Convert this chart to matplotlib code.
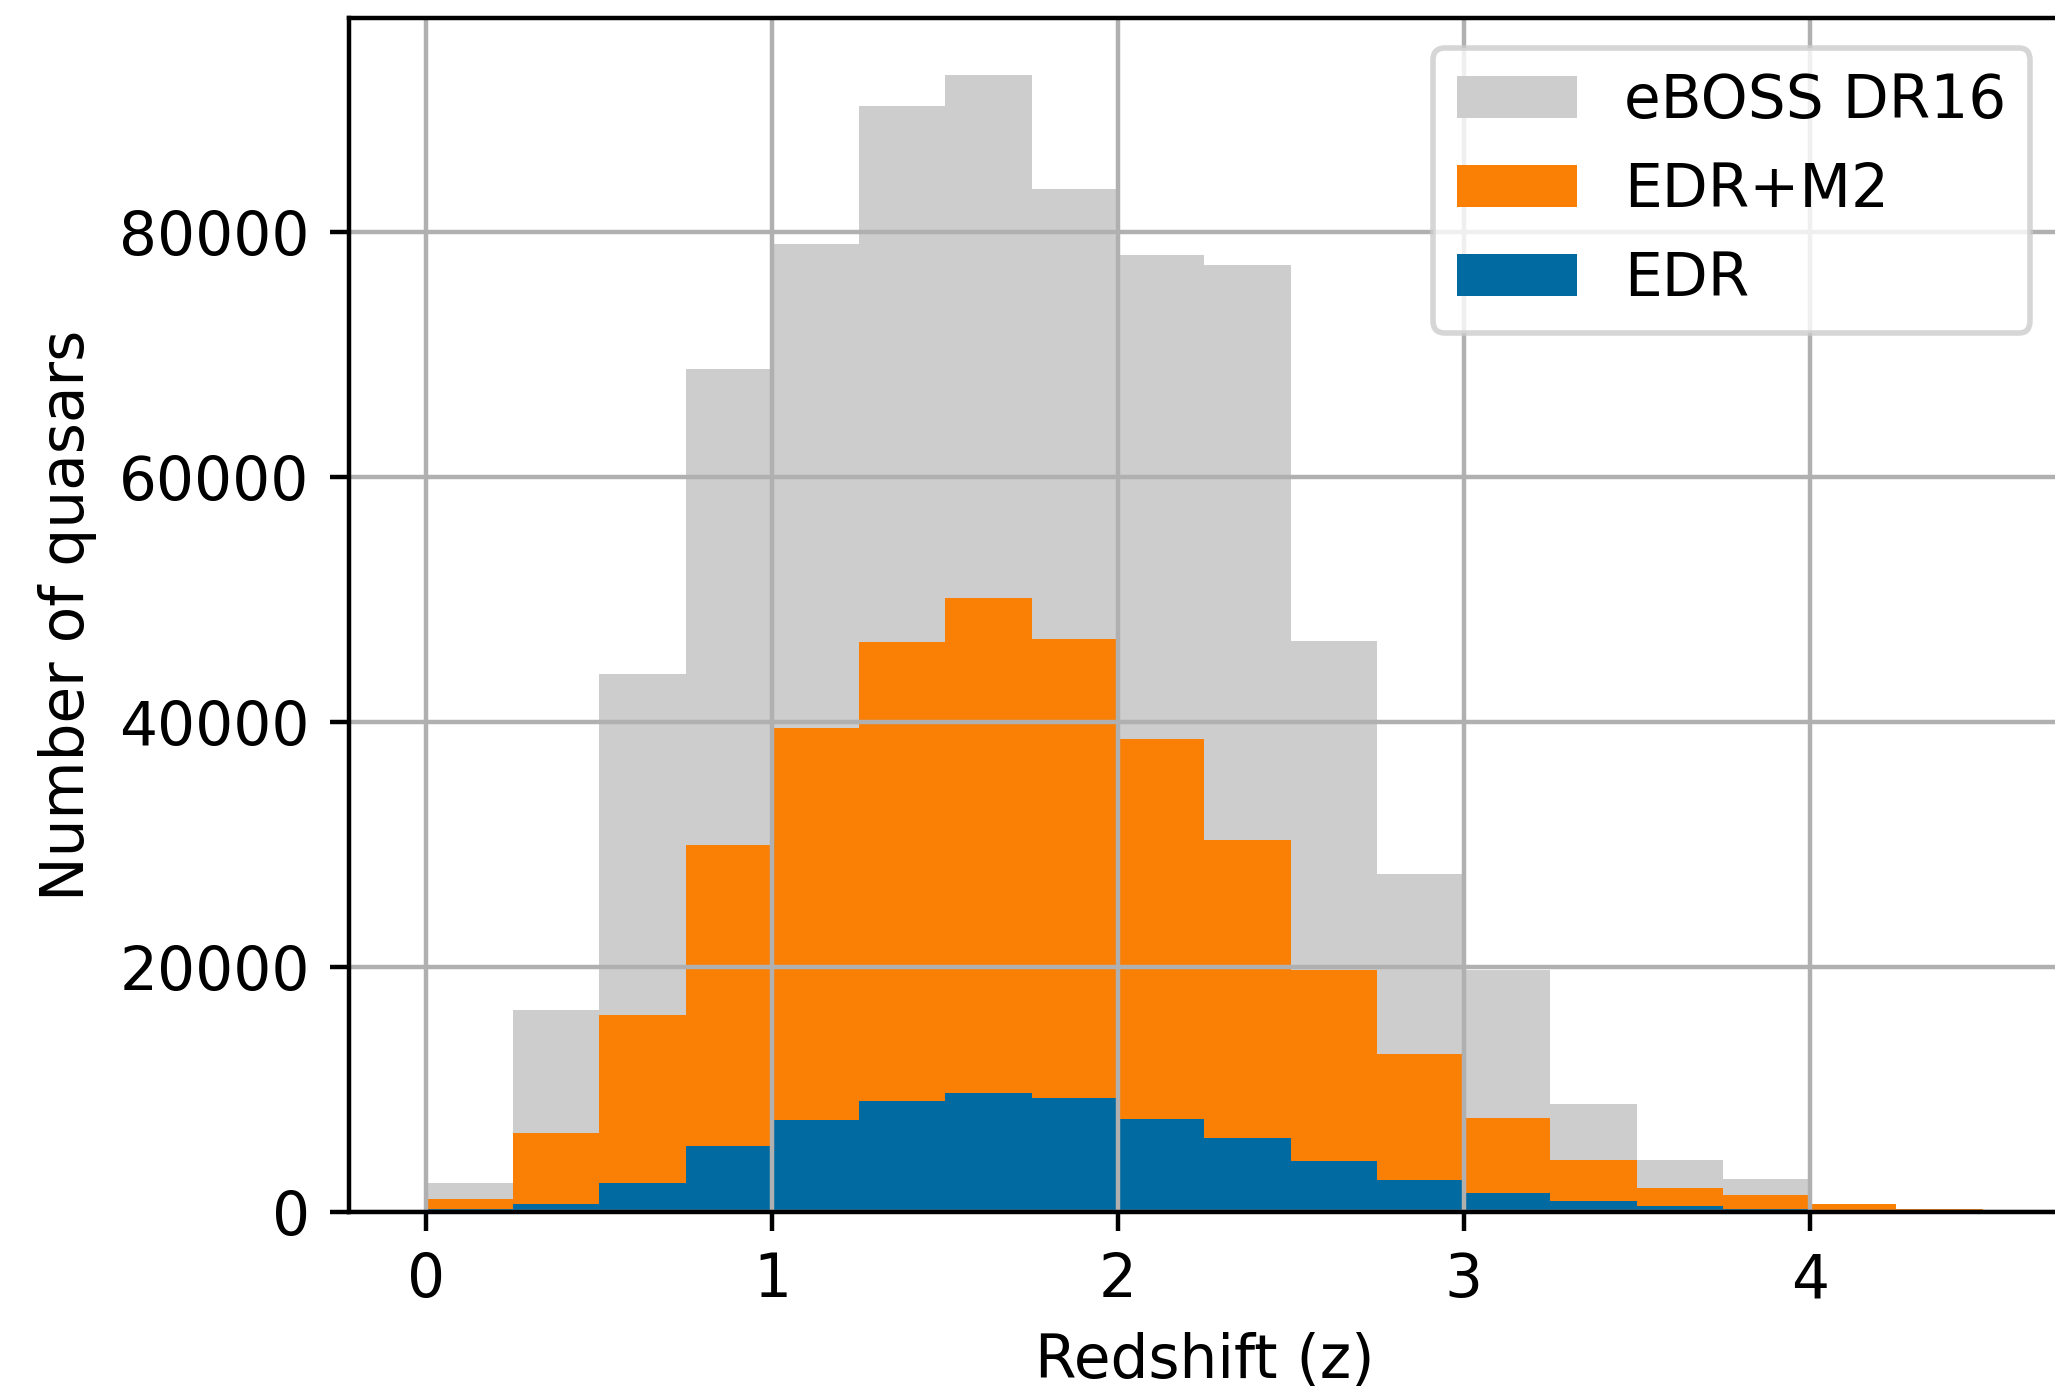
import numpy as np
import matplotlib
matplotlib.use("Agg")
import matplotlib.pyplot as plt

# redshift bins (width 0.25 from 0 to 4.5)
bin_edges = [0.0, 0.25, 0.5, 0.75, 1.0, 1.25, 1.5, 1.75, 2.0, 2.25,
             2.5, 2.75, 3.0, 3.25, 3.5, 3.75, 4.0, 4.25, 4.5]

# counts per bin
eboss_dr16 = [2400, 16500, 43900, 68800, 79000, 90300, 92800, 83500, 78100,
              77300, 46600, 27600, 19800, 8800, 4300, 2700, 500, 200]
edr_m2 = [1100, 6500, 16100, 30000, 39500, 46500, 50100, 46800, 38600,
          30400, 19800, 12900, 7700, 4300, 2000, 1400, 650, 300]
edr = [250, 650, 2400, 5400, 7500, 9100, 9700, 9300, 7600,
       6100, 4200, 2600, 1600, 950, 500, 300, 100, 30]

labels = ["eBOSS DR16", "EDR+M2", "EDR"]
colors = ["#CDCDCD", "#F97F05", "#016AA0"]

plt.rcParams["font.size"] = 10.75

edges = np.array(bin_edges)
centers = 0.5 * (edges[:-1] + edges[1:])

fig = plt.figure(figsize=(2055 / 400, 1392 / 400), dpi=400)
ax = fig.add_axes([0.1696, 0.1291, 0.8330, 0.8578])

for counts, lab, col in zip([eboss_dr16, edr_m2, edr], labels, colors):
    ax.hist(centers, bins=edges, weights=counts, color=col, label=lab)

ax.set_xlabel("Redshift (z)")
ax.set_ylabel("Number of quasars")
ax.set_xticks([0, 1, 2, 3, 4])
ax.set_yticks([0, 20000, 40000, 60000, 80000])
ax.grid(True)
ax.legend(loc="upper right")

fig.savefig("out.png", dpi=400)
